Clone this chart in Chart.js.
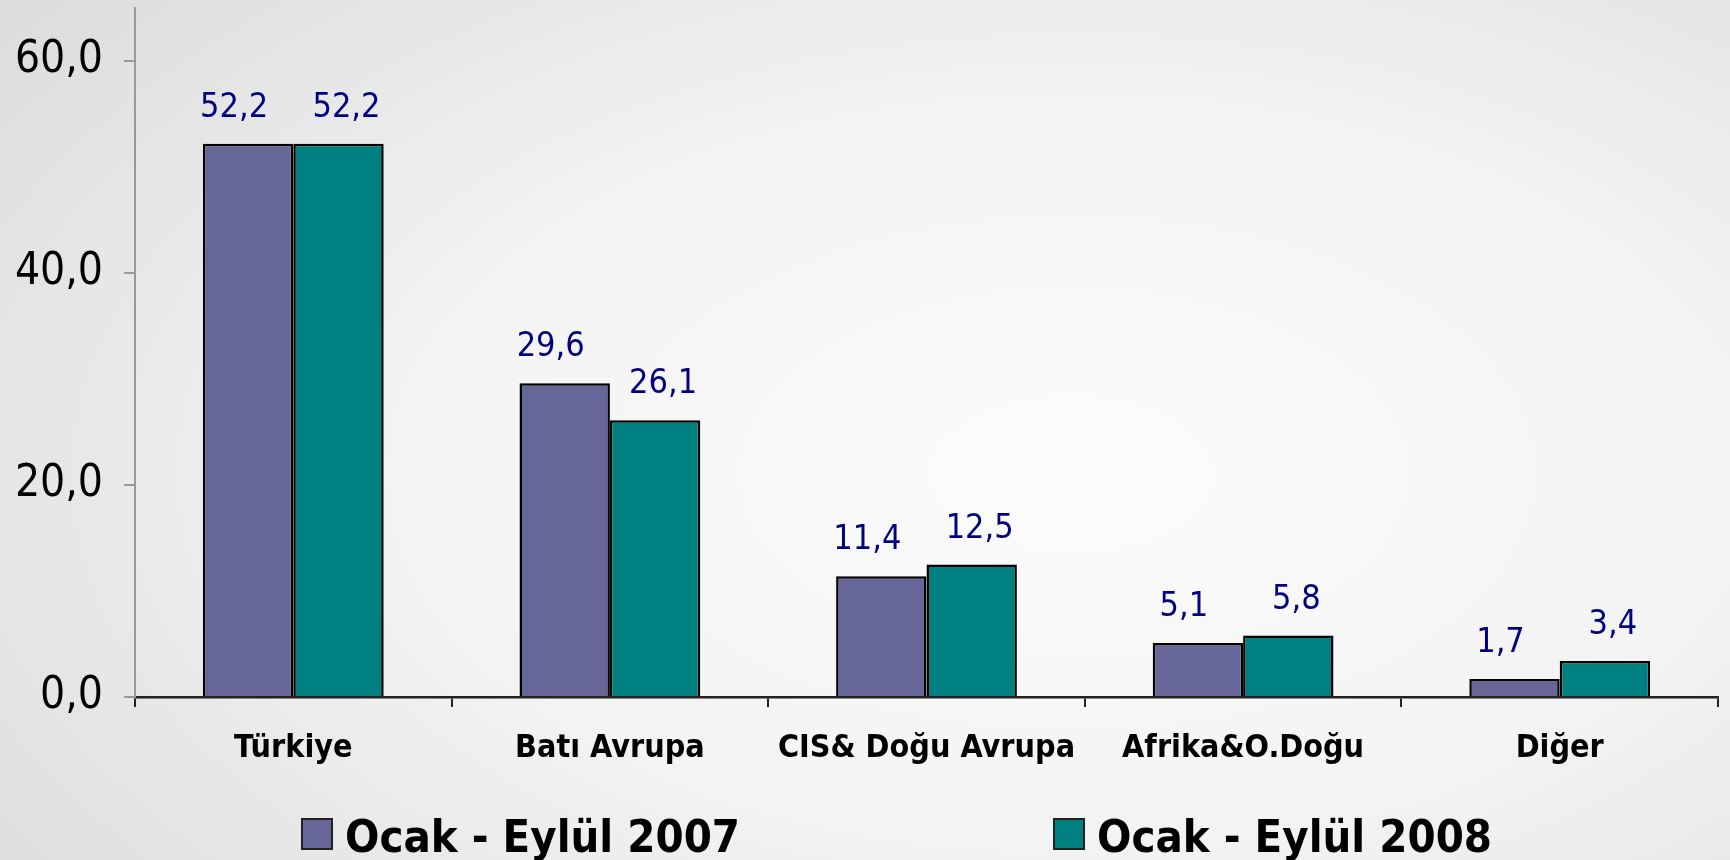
<!DOCTYPE html>
<html>
<head>
<meta charset="utf-8">
<script src="https://cdn.jsdelivr.net/npm/chart.js@4"></script>
<style>
  html, body { margin: 0; padding: 0; }
  body {
    width: 1730px; height: 860px; overflow: hidden;
    background: radial-gradient(ellipse 85% 95% at 62% 55%, #fcfcfc 0%, #f3f3f3 45%, #d8d8d8 100%);
  }
  canvas { display: block; }
</style>
</head>
<body>
<canvas id="grafico" width="1730" height="860"></canvas>
<script>
// Dados do gráfico
const categorias = ['Türkiye', 'Batı Avrupa', 'CIS& Doğu Avrupa', 'Afrika&O.Doğu', 'Diğer'];
const serie2007 = [52.2, 29.6, 11.4, 5.1, 1.7];
const serie2008 = [52.2, 26.1, 12.5, 5.8, 3.4];
const rotulosSeries = ['Ocak - Eylül 2007', 'Ocak - Eylül 2008'];
const ticksY = [0, 20, 40, 60];

const FONTE = "'DejaVu Sans Condensed', 'DejaVu Sans', sans-serif";
const fmt = v => v.toFixed(1).replace('.', ',');

// Rótulos de valor acima das barras
const rotulosValor = {
    id: 'rotulosValor',
    afterDatasetsDraw(chart) {
        const ctx = chart.ctx;
        const desloc = [-14, 8];
        ctx.save();
        ctx.font = '34px ' + FONTE;
        ctx.fillStyle = '#000080';
        ctx.textAlign = 'center';
        ctx.textBaseline = 'alphabetic';
        chart.data.datasets.forEach((ds, i) => {
            chart.getDatasetMeta(i).data.forEach((bar, j) => {
                ctx.fillText(fmt(ds.data[j]), bar.x + desloc[i], bar.y - 27);
            });
        });
        ctx.restore();
    }
};

// Legenda desenhada à mão (espaçamento largo entre os itens)
const legenda = {
    id: 'legenda',
    afterDraw(chart) {
        const ctx = chart.ctx;
        const xs = [302, 1054];
        ctx.save();
        ctx.font = 'bold 45px ' + FONTE;
        ctx.textBaseline = 'alphabetic';
        ctx.textAlign = 'left';
        chart.data.datasets.forEach((ds, i) => {
            ctx.fillStyle = ds.backgroundColor;
            ctx.fillRect(xs[i], 819, 30, 30);
            ctx.lineWidth = 2;
            ctx.strokeStyle = '#222';
            ctx.strokeRect(xs[i], 819, 30, 30);
            ctx.fillStyle = '#000';
            ctx.fillText(ds.label, xs[i] + 43, 852);
        });
        ctx.restore();
    }
};

const ctx = document.getElementById('grafico').getContext('2d');
const grafico = new Chart(ctx, {
    type: 'bar',
    data: {
        labels: categorias,
        datasets: [
            {
                label: rotulosSeries[0],
                data: serie2007,
                backgroundColor: '#666699',
                borderColor: '#000',
                borderWidth: 2.5,
                categoryPercentage: 0.571,
                barPercentage: 1.0
            },
            {
                label: rotulosSeries[1],
                data: serie2008,
                backgroundColor: '#008080',
                borderColor: '#000',
                borderWidth: 2.5,
                categoryPercentage: 0.571,
                barPercentage: 1.0
            }
        ]
    },
    options: {
        responsive: false,
        animation: false,
        layout: { padding: { top: 8, right: 12, bottom: 93, left: 0 } },
        plugins: {
            legend: { display: false },
            tooltip: { enabled: false }
        },
        scales: {
            x: {
                grid: { offset: true, drawOnChartArea: false, drawTicks: true, tickLength: 10, color: '#222', lineWidth: 2 },
                border: { color: '#222', width: 2.5 },
                ticks: { color: '#000', padding: 22, font: { family: FONTE, size: 32, weight: 'bold' } },
                afterFit(scale) { scale.height = 70; scale.paddingLeft = 0; scale.paddingRight = 0; }
            },
            y: {
                min: 0,
                max: 65,
                ticks: {
                    stepSize: 20,
                    color: '#000',
                    padding: 21,
                    font: { family: FONTE, size: 44 },
                    callback: v => fmt(v)
                },
                afterBuildTicks(scale) { scale.ticks = ticksY.map(v => ({ value: v })); },
                grid: { drawOnChartArea: false, drawTicks: true, tickLength: 11, color: '#999', lineWidth: 2 },
                border: { color: '#999', width: 2 },
                afterFit(scale) { scale.width = 135; scale.paddingTop = 0; scale.paddingBottom = 0; }
            }
        }
    },
    plugins: [rotulosValor, legenda]
});
</script>
</body>
</html>
